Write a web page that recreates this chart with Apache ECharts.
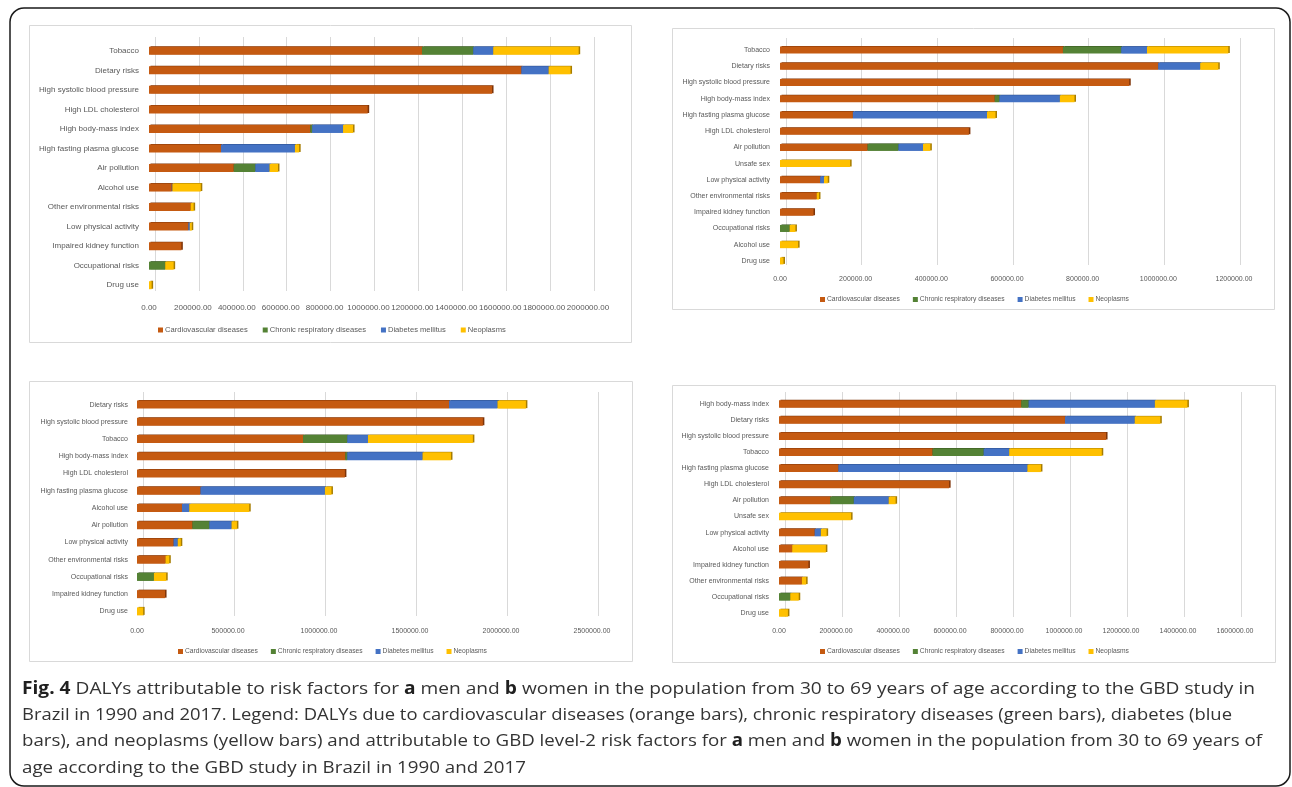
<!DOCTYPE html>
<html>
<head>
<meta charset="utf-8">
<script src="https://cdn.jsdelivr.net/npm/echarts@6/dist/echarts.min.js"></script>
<style>
  html, body { margin: 0; padding: 0; background: #fff; }
  #chart { width: 1292px; height: 787px; }
</style>
</head>
<body>
<div id="chart"></div>
<script>
// DALYs attributable to GBD level-2 risk factors, ages 30-69, Brazil
const seriesNames = ['Cardiovascular diseases', 'Chronic respiratory diseases', 'Diabetes mellitus', 'Neoplasms'];

// Panel A (top left)
const catsA = ['Tobacco', 'Dietary risks', 'High systolic blood pressure', 'High LDL cholesterol', 'High body-mass index', 'High fasting plasma glucose', 'Air pollution', 'Alcohol use', 'Other environmental risks', 'Low physical activity', 'Impaired kidney function', 'Occupational risks', 'Drug use'];
const cvdA = [1243600, 1696000, 1562800, 996300, 735000, 328000, 385900, 103500, 189400, 179000, 147300, 0, 0];
const crdA = [233300, 0, 0, 0, 8000, 0, 98200, 0, 0, 0, 0, 73700, 0];
const dmA  = [91200, 124500, 0, 0, 141000, 336800, 64900, 3000, 0, 7000, 0, 0, 0];
const neoA = [389500, 100000, 0, 0, 45600, 19300, 38600, 129500, 14000, 8800, 0, 38600, 12000];
const ticksA = { max: 2000000, interval: 200000 };

// Panel B (top right)
const catsB = ['Tobacco', 'Dietary risks', 'High systolic blood pressure', 'High body-mass index', 'High fasting plasma glucose', 'High LDL cholesterol', 'Air pollution', 'Unsafe sex', 'Low physical activity', 'Other environmental risks', 'Impaired kidney function', 'Occupational risks', 'Alcohol use', 'Drug use'];
const cvdB = [747900, 999500, 923100, 567500, 192600, 499300, 231300, 0, 106000, 96800, 88600, 0, 0, 0];
const crdB = [153800, 0, 0, 12200, 0, 0, 81500, 0, 0, 0, 0, 25500, 0, 0];
const dmB  = [68300, 111100, 0, 160000, 354600, 0, 65200, 0, 10200, 0, 0, 0, 0, 0];
const neoB = [215000, 47900, 0, 38700, 22400, 0, 19400, 185400, 10100, 6200, 0, 15300, 47900, 9200];
const ticksB = { max: 1200000, interval: 200000 };

// Panel C (bottom left)
const catsC = ['Dietary risks', 'High systolic blood pressure', 'Tobacco', 'High body-mass index', 'High LDL cholesterol', 'High fasting plasma glucose', 'Alcohol use', 'Air pollution', 'Low physical activity', 'Other environmental risks', 'Occupational risks', 'Impaired kidney function', 'Drug use'];
const cvdC = [1714500, 1900400, 912200, 1144400, 1142300, 348400, 247000, 304100, 200600, 156300, 0, 154100, 0];
const crdC = [0, 0, 242800, 10600, 0, 0, 0, 92900, 0, 0, 92900, 0, 0];
const dmC  = [266100, 0, 114000, 413800, 0, 684100, 40200, 122400, 23200, 0, 0, 0, 0];
const neoC = [156200, 0, 576500, 156300, 0, 35900, 329400, 29600, 16900, 21100, 67600, 0, 33800];
const ticksC = { max: 2500000, interval: 500000 };

// Panel D (bottom right)
const catsD = ['High body-mass index', 'Dietary risks', 'High systolic blood pressure', 'Tobacco', 'High fasting plasma glucose', 'High LDL cholesterol', 'Air pollution', 'Unsafe sex', 'Low physical activity', 'Alcohol use', 'Impaired kidney function', 'Other environmental risks', 'Occupational risks', 'Drug use'];
const cvdD = [849800, 1003400, 1147500, 538400, 208000, 596900, 179500, 0, 125100, 46200, 103300, 80200, 0, 0];
const crdD = [25800, 0, 0, 179500, 0, 0, 82900, 0, 0, 0, 0, 0, 39400, 0];
const dmD  = [443200, 244700, 0, 89700, 663500, 0, 122400, 0, 21700, 0, 0, 0, 0, 0];
const neoD = [114200, 89800, 0, 324900, 47600, 0, 24400, 252900, 20400, 118300, 0, 15000, 29900, 31300];
const ticksD = { max: 1600000, interval: 200000 };

// Caption lines
const captionLines = [
  '{b|Fig. 4} DALYs attributable to risk factors for {b|a} men and {b|b} women in the population from 30 to 69 years of age according to the GBD study in',
  'Brazil in 1990 and 2017. Legend: DALYs due to cardiovascular diseases (orange bars), chronic respiratory diseases (green bars), diabetes (blue',
  'bars), and neoplasms (yellow bars) and attributable to GBD level-2 risk factors for {b|a} men and {b|b} women in the population from 30 to 69 years of',
  'age according to the GBD study in Brazil in 1990 and 2017'
];
// right end of each full-width caption line (px); the last line is short
const captionRight = [1255, 1232, 1262, null];

const colors = ['#C55A11', '#548235', '#4472C4', '#FFC000'];
const edgeColors = ['#7E3408', '#34531F', '#2B4C88', '#A67C00'];
const FONT = "'Liberation Sans', Arial, sans-serif";
const CAP_FONT = "'Open Sans', 'Noto Sans', sans-serif";
const CAP_SIZE = 17;
const TXT = '#595959';

const panels = [
  { cats: catsA, data: [cvdA, crdA, dmA, neoA], ticks: ticksA, box: [29, 25, 602, 317],
    grid: { left: 149, top: 41, width: 439, height: 254 }, font: 8, legendFont: 7.6,
    legend: { left: 153, top: 321, gap: 15 }, barWidth: 8, labelMargin: 9, catMargin: 10 },
  { cats: catsB, data: [cvdB, crdB, dmB, neoB], ticks: ticksB, box: [672, 28, 602, 281],
    grid: { left: 780, top: 42, width: 454, height: 227 }, font: 7, legendFont: 6.7,
    legend: { left: 815, top: 291, gap: 13 }, barWidth: 7, labelMargin: 7, catMargin: 10 },
  { cats: catsC, data: [cvdC, crdC, dmC, neoC], ticks: ticksC, box: [29, 381, 603, 280],
    grid: { left: 137, top: 396, width: 455, height: 224 }, font: 7, legendFont: 6.7,
    legend: { left: 173, top: 643, gap: 13 }, barWidth: 8, labelMargin: 8, catMargin: 9 },
  { cats: catsD, data: [cvdD, crdD, dmD, neoD], ticks: ticksD, box: [672, 385, 603, 277],
    grid: { left: 779, top: 396, width: 456, height: 225 }, font: 7, legendFont: 6.7,
    legend: { left: 815, top: 643, gap: 13 }, barWidth: 7.5, labelMargin: 7, catMargin: 10 }
];

const grid = [], xAxis = [], yAxis = [], series = [], legend = [], graphic = [];

// outer figure frame
graphic.push({
  type: 'rect', z: -10, silent: true,
  shape: { x: 10, y: 8, width: 1280, height: 778, r: 14 },
  style: { fill: '#fff', stroke: '#1a1a1a', lineWidth: 1.5 }
});

panels.forEach((p, i) => {
  // chart area border
  graphic.push({
    type: 'rect', z: -5, silent: true,
    shape: { x: p.box[0] + 0.5, y: p.box[1] + 0.5, width: p.box[2], height: p.box[3] },
    style: { fill: '#fff', stroke: '#d9d9d9', lineWidth: 1 }
  });

  // front grid holding the bars
  grid.push({ left: p.grid.left, top: p.grid.top, width: p.grid.width, height: p.grid.height, containLabel: false });
  xAxis.push({
    type: 'value', gridIndex: i, min: 0, max: p.ticks.max, interval: p.ticks.interval,
    axisLine: { show: false }, axisTick: { show: false }, splitLine: { show: false },
    axisLabel: {
      color: TXT, fontSize: p.font, fontFamily: FONT, margin: p.labelMargin,
      formatter: v => v.toFixed(2)
    }
  });
  yAxis.push({
    type: 'category', gridIndex: i, data: p.cats, inverse: true,
    axisLine: { show: false }, axisTick: { show: false }, splitLine: { show: false },
    axisLabel: { color: TXT, fontSize: p.font, fontFamily: FONT, margin: p.catMargin }
  });
  p.data.forEach((vals, k) => {
    series.push({
      name: seriesNames[k], type: 'bar', stack: 'panel' + i,
      xAxisIndex: i, yAxisIndex: i, barWidth: p.barWidth,
      data: vals.map(v => (v === 0 ? '-' : v)),
      itemStyle: {
        color: colors[k],
        shadowColor: edgeColors[k], shadowBlur: 0, shadowOffsetX: 1.5, shadowOffsetY: -0.5
      },
      emphasis: { disabled: true },
      animation: false
    });
  });

  legend.push({
    left: p.legend.left, top: p.legend.top, orient: 'horizontal',
    data: seriesNames.slice(), icon: 'rect', itemWidth: 5, itemHeight: 5,
    itemGap: p.legend.gap, selectedMode: false,
    textStyle: { color: TXT, fontSize: p.legendFont, fontFamily: FONT, padding: [0, 0, 0, -3] }
  });
});

// back wall of each chart: gridlines set slightly up and to the right
panels.forEach((p, i) => {
  const gi = panels.length + i;
  grid.push({ left: p.grid.left + 6, top: p.grid.top - 4, width: p.grid.width, height: p.grid.height });
  xAxis.push({
    type: 'value', gridIndex: gi, min: 0, max: p.ticks.max, interval: p.ticks.interval,
    axisLine: { show: false }, axisTick: { show: false }, axisLabel: { show: false },
    splitLine: { show: true, lineStyle: { color: '#d9d9d9', width: 1 } }, z: -1
  });
  yAxis.push({
    type: 'value', gridIndex: gi, min: 0, max: 1, show: false
  });
});

// measure a caption line with its bold fragments
const measureCtx = document.createElement('canvas').getContext('2d');
function lineWidth(line) {
  let w = 0;
  line.split(/(\{b\|[^}]*\})/).forEach(part => {
    if (!part) return;
    const m = part.match(/^\{b\|([^}]*)\}$/);
    measureCtx.font = (m ? 'bold ' : '') + CAP_SIZE + 'px ' + CAP_FONT;
    w += measureCtx.measureText(m ? m[1] : part).width;
  });
  return w;
}

// caption below the four charts; the short last line uses the mean stretch
const CAP_LEFT = 22;
const stretches = captionLines.map((line, j) =>
  captionRight[j] ? (captionRight[j] - CAP_LEFT) / lineWidth(line) : null);
const known = stretches.filter(s => s !== null);
const meanStretch = known.reduce((a, b) => a + b, 0) / known.length;
captionLines.forEach((line, j) => {
  graphic.push({
    type: 'text', silent: true,
    x: CAP_LEFT, y: 689 + j * 26.3, scaleX: stretches[j] || meanStretch, scaleY: 1,
    style: {
      x: 0, y: 0, text: line, verticalAlign: 'middle',
      fill: '#333', fontSize: CAP_SIZE, fontFamily: CAP_FONT,
      rich: { b: { fontWeight: 'bold', fill: '#1f1f1f', fontSize: CAP_SIZE, fontFamily: CAP_FONT } }
    }
  });
});

const chart = echarts.init(document.getElementById('chart'), null, { renderer: 'canvas' });
chart.setOption({
  animation: false,
  backgroundColor: '#fff',
  grid, xAxis, yAxis, series, legend, graphic
});
</script>
</body>
</html>
